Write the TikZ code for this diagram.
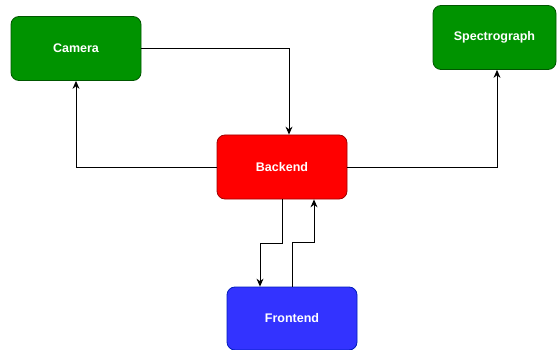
\documentclass[tikz,border=0pt]{standalone}
\usepackage{fontspec}
\setmainfont{Liberation Sans}
\usetikzlibrary{arrows.meta,positioning,calc}

\definecolor{boxgreen}{HTML}{009300}
\definecolor{boxgreenline}{HTML}{005700}
\definecolor{boxred}{HTML}{FF0000}
\definecolor{boxredline}{HTML}{A00000}
\definecolor{boxblue}{HTML}{3333FF}
\definecolor{boxblueline}{HTML}{001DBC}

\begin{document}
\begin{tikzpicture}[x=1pt, y=-1pt,
    unit/.style={rounded corners=8pt, line width=0.8pt, text=white,
        font=\fontsize{12.5}{14}\selectfont\bfseries,
        minimum width=130pt, minimum height=64pt, inner sep=0pt},
    conn/.style={-{Stealth[length=8pt,width=7pt]}, line width=0.9pt}]
    \useasboundingbox (0,0) rectangle (557,350);

    % Boxes
    \node[unit, fill=boxgreen, draw=boxgreenline] (camera) at (76,48.5) {Camera};
    \node[unit, fill=boxgreen, draw=boxgreenline, minimum width=123pt] (spectro) at (494.5,37.5) {Spectrograph};
    \node[unit, fill=boxred, draw=boxredline] (backend) at (282,167) {Backend};
    \node[unit, fill=boxblue, draw=boxblueline, minimum height=63pt] (frontend) at (292,318.5) {Frontend};

    % Connections to the backend
    \draw[conn] (camera.east) -| ([xshift=7pt]backend.north);
    \draw[conn] (backend.west) -| (camera.south);
    \draw[conn] (backend.east) -| ([xshift=2.5pt]spectro.south);

    % Backend <-> frontend
    \draw[conn] (backend.south) -- ++(0,44) -| ([xshift=-32pt]frontend.north);
    \draw[conn] (frontend.north) -- ++(0,-44) -| ([xshift=32pt]backend.south);
\end{tikzpicture}
\end{document}
